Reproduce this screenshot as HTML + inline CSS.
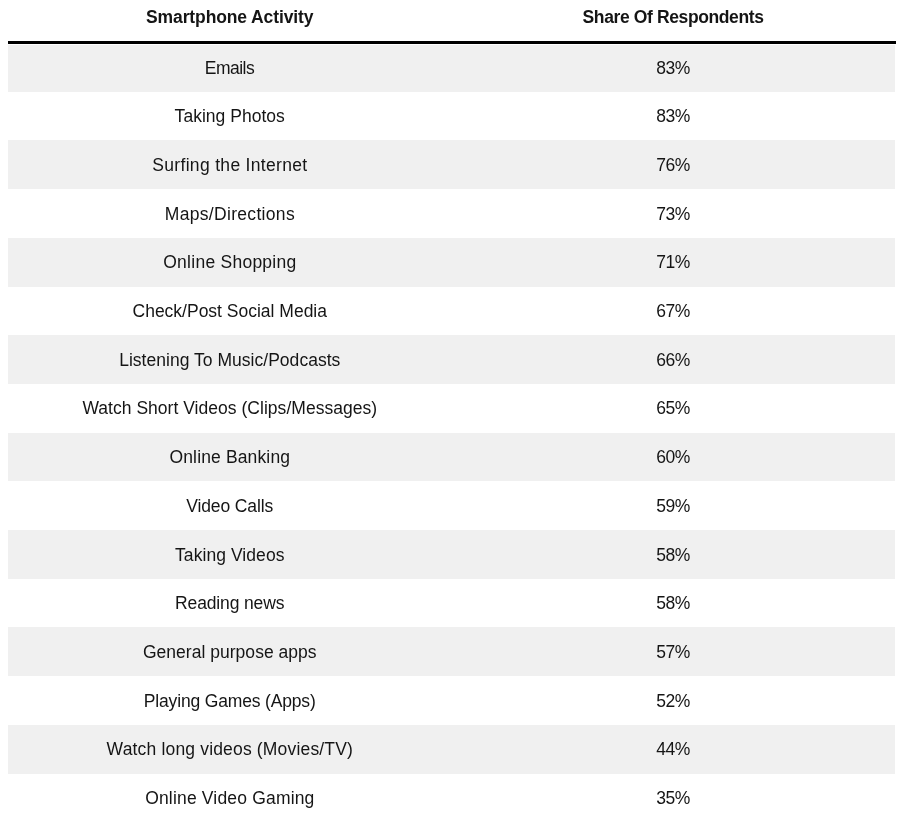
<!DOCTYPE html>
<html lang="en">
<head>
<meta charset="utf-8">
<title>Smartphone Activity - Share Of Respondents</title>
<style>
html,body{margin:0;padding:0;background:#fff;}
body{width:897px;height:822px;overflow:hidden;position:relative;font-family:"Liberation Sans",Arial,sans-serif;}
table{position:absolute;left:8px;top:0;width:887px;border-collapse:separate;border-spacing:0;table-layout:fixed;margin:0;}
th,td{padding:0;text-align:center;vertical-align:top;white-space:nowrap;overflow:visible;}
th{height:41px;font-weight:700;font-size:17.5px;color:#151515;line-height:41px;}
thead tr{height:41px;}
tr.rule td{height:3px;padding:0;line-height:0;font-size:0;}
tr.rule td div{height:3px;background:#000;width:888px;}
td{font-size:17.5px;color:#151515;}
tbody.data tr:nth-child(odd) td{background:#f0f0f0;}
td span,th span{display:inline-block;position:relative;}
th span{top:-3px;}
td span{top:0px;}
tbody.data tr.r1 td{height:48px;line-height:48px;}
tbody.data tr.r2 td{height:48px;line-height:48px;}
tbody.data tr.r3 td{height:49px;line-height:49px;}
tbody.data tr.r3 td span{top:1px;}
tbody.data tr.r4 td{height:49px;line-height:49px;}
tbody.data tr.r4 td span{top:1px;}
tbody.data tr.r5 td{height:49px;line-height:49px;}
tbody.data tr.r6 td{height:48px;line-height:48px;}
tbody.data tr.r7 td{height:49px;line-height:49px;}
tbody.data tr.r7 td span{top:1px;}
tbody.data tr.r8 td{height:49px;line-height:49px;}
tbody.data tr.r9 td{height:48px;line-height:48px;}
tbody.data tr.r10 td{height:49px;line-height:49px;}
tbody.data tr.r10 td span{top:1px;}
tbody.data tr.r11 td{height:49px;line-height:49px;}
tbody.data tr.r11 td span{top:1px;}
tbody.data tr.r12 td{height:48px;line-height:48px;}
tbody.data tr.r13 td{height:49px;line-height:49px;}
tbody.data tr.r13 td span{top:1px;}
tbody.data tr.r14 td{height:49px;line-height:49px;}
tbody.data tr.r14 td span{top:1px;}
tbody.data tr.r15 td{height:49px;line-height:49px;}
tbody.data tr.r16 td{height:48px;line-height:48px;}
tbody.data tr.r1 td{box-shadow:inset 0 1px 0 #fff;}
</style>
</head>
<body>
<table>
<colgroup><col style="width:443.5px"><col style="width:443.5px"></colgroup>
<thead>
<tr><th scope="col"><span style="letter-spacing:-0.119px;margin-right:0.119px">Smartphone Activity</span></th><th scope="col"><span style="letter-spacing:-0.380px;margin-right:0.380px">Share Of Respondents</span></th></tr>
</thead>
<tbody class="rulebody"><tr class="rule"><td colspan="2"><div></div></td></tr></tbody>
<tbody class="data">
<tr class="r1"><td><span style="letter-spacing:-0.493px;margin-right:0.493px">Emails</span></td><td><span style="letter-spacing:-0.540px;margin-right:0.540px">83%</span></td></tr>
<tr class="r2"><td><span style="letter-spacing:0.027px;margin-right:-0.027px">Taking Photos</span></td><td><span style="letter-spacing:-0.540px;margin-right:0.540px">83%</span></td></tr>
<tr class="r3"><td><span style="letter-spacing:0.324px;margin-right:-0.324px">Surfing the Internet</span></td><td><span style="letter-spacing:-0.540px;margin-right:0.540px">76%</span></td></tr>
<tr class="r4"><td><span style="letter-spacing:0.309px;margin-right:-0.309px">Maps/Directions</span></td><td><span style="letter-spacing:-0.540px;margin-right:0.540px">73%</span></td></tr>
<tr class="r5"><td><span style="letter-spacing:0.255px;margin-right:-0.255px">Online Shopping</span></td><td><span style="letter-spacing:-0.540px;margin-right:0.540px">71%</span></td></tr>
<tr class="r6"><td><span style="letter-spacing:-0.003px;margin-right:0.003px">Check/Post Social Media</span></td><td><span style="letter-spacing:-0.540px;margin-right:0.540px">67%</span></td></tr>
<tr class="r7"><td><span style="letter-spacing:0.028px;margin-right:-0.028px">Listening To Music/Podcasts</span></td><td><span style="letter-spacing:-0.540px;margin-right:0.540px">66%</span></td></tr>
<tr class="r8"><td><span style="letter-spacing:0.028px;margin-right:-0.028px">Watch Short Videos (Clips/Messages)</span></td><td><span style="letter-spacing:-0.540px;margin-right:0.540px">65%</span></td></tr>
<tr class="r9"><td><span style="letter-spacing:0.141px;margin-right:-0.141px">Online Banking</span></td><td><span style="letter-spacing:-0.540px;margin-right:0.540px">60%</span></td></tr>
<tr class="r10"><td><span style="letter-spacing:-0.115px;margin-right:0.115px">Video Calls</span></td><td><span style="letter-spacing:-0.540px;margin-right:0.540px">59%</span></td></tr>
<tr class="r11"><td><span style="letter-spacing:0.067px;margin-right:-0.067px">Taking Videos</span></td><td><span style="letter-spacing:-0.540px;margin-right:0.540px">58%</span></td></tr>
<tr class="r12"><td><span style="letter-spacing:-0.146px;margin-right:0.146px">Reading news</span></td><td><span style="letter-spacing:-0.540px;margin-right:0.540px">58%</span></td></tr>
<tr class="r13"><td><span style="letter-spacing:0.028px;margin-right:-0.028px">General purpose apps</span></td><td><span style="letter-spacing:-0.540px;margin-right:0.540px">57%</span></td></tr>
<tr class="r14"><td><span style="letter-spacing:-0.164px;margin-right:0.164px">Playing Games (Apps)</span></td><td><span style="letter-spacing:-0.540px;margin-right:0.540px">52%</span></td></tr>
<tr class="r15"><td><span style="letter-spacing:0.170px;margin-right:-0.170px">Watch long videos (Movies/TV)</span></td><td><span style="letter-spacing:-0.540px;margin-right:0.540px">44%</span></td></tr>
<tr class="r16"><td><span style="letter-spacing:0.175px;margin-right:-0.175px">Online Video Gaming</span></td><td><span style="letter-spacing:-0.540px;margin-right:0.540px">35%</span></td></tr>
</tbody>
</table>
</body>
</html>
